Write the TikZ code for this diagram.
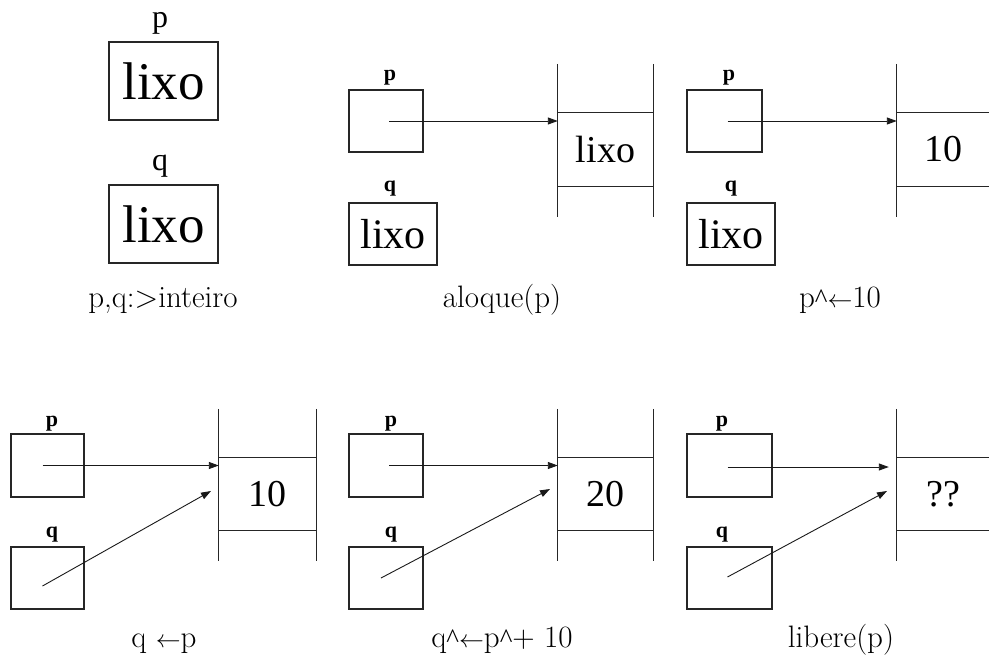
\documentclass[tikz,border=0pt]{standalone}
\usepackage{fontspec}
\newfontfamily\tms{Liberation Serif}
\usetikzlibrary{arrows.meta,calc}
\newcommand\crt{{\tms\fontsize{27}{30}\selectfont\textasciicircum}}
\tikzset{
 varbox/.style={draw=black!85, line width=1.2pt, inner sep=0pt, font=\tms\fontsize{42}{42}\selectfont},
 bigbox/.style={varbox, font=\tms\fontsize{53}{53}\selectfont},
 lbl/.style={anchor=base, inner sep=0pt, font=\tms\bfseries\fontsize{22}{22}\selectfont},
 biglbl/.style={anchor=base, inner sep=0pt, font=\tms\fontsize{32}{32}\selectfont},
 captext/.style={anchor=base, inner sep=0pt, font=\fontsize{31}{36}\selectfont},
 cell/.style={inner sep=0pt, font=\tms\fontsize{38}{38}\selectfont},
 wall/.style={line width=1.2pt, draw=black!85},
 ptr/.style={line width=0.9pt, draw=black!90, -{Triangle[length=10pt,width=7pt]}},
}
\begin{document}
\begin{tikzpicture}[x=1pt,y=-1pt]
\useasboundingbox (0,0) rectangle (989,659);
% ---------- panel 1
\node[bigbox, minimum width=109pt, minimum height=78pt] (p1) at (163.5,81) {lixo};
\node[biglbl] (p1l) at (160,27) {p};
\node[bigbox, minimum width=109pt, minimum height=78pt] (q1) at (163.5,224) {lixo};
\node[biglbl] (q1l) at (160,170) {q};
\node[captext] (c1) at (163,307) {p,q:>inteiro};
% ---------- panel 2
\node[varbox, minimum width=74pt, minimum height=62pt] (p2) at (386,121) {};
\node[lbl] (p2l) at (390,80) {p};
\node[varbox, minimum width=88pt, minimum height=62pt] (q2) at (393,234) {lixo};
\node[lbl] (q2l) at (390,191) {q};
\node[cell, minimum width=95pt, minimum height=73pt] (m2) at (605.5,149.5) {lixo};
\draw[wall] ($(m2.north west)+(0,-49)$) -- ($(m2.south west)+(0,31)$);
\draw[wall] ($(m2.north east)+(0,-49)$) -- ($(m2.south east)+(0,31)$);
\draw[wall] (m2.north west) -- (m2.north east);
\draw[wall] (m2.south west) -- (m2.south east);
\draw[ptr] ($(p2.center)+(3,0)$) -- (m2.west |- p2.center);
\node[captext] (c2) at (502,307) {aloque(p)};
% ---------- panel 3
\node[varbox, minimum width=75pt, minimum height=62pt] (p3) at (724.5,121) {};
\node[lbl] (p3l) at (729,80) {p};
\node[varbox, minimum width=88pt, minimum height=62pt] (q3) at (731,234) {lixo};
\node[lbl] (q3l) at (731,191) {q};
\node[cell, minimum width=92pt, minimum height=73pt] (m3) at (943,149.5) {10};
\draw[wall] ($(m3.north west)+(0,-49)$) -- ($(m3.south west)+(0,31)$);
\draw[wall] (m3.north west) -- (m3.north east);
\draw[wall] (m3.south west) -- (m3.south east);
\draw[ptr] ($(p3.center)+(3,0)$) -- (m3.west |- p3.center);
\node[captext] (c3) at (840,307) {p\crt$\leftarrow$10};
% ---------- panel 4
\node[varbox, minimum width=73pt, minimum height=63pt] (p4) at (47.5,465.5) {};
\node[lbl] (p4l) at (52,426) {p};
\node[varbox, minimum width=73pt, minimum height=62pt] (q4) at (47.5,578) {};
\node[lbl] (q4l) at (52,537) {q};
\node[cell, minimum width=97pt, minimum height=72pt] (m4) at (267.5,494) {10};
\draw[wall] ($(m4.north west)+(0,-49)$) -- ($(m4.south west)+(0,31)$);
\draw[wall] ($(m4.north east)+(0,-49)$) -- ($(m4.south east)+(0,31)$);
\draw[wall] (m4.north west) -- (m4.north east);
\draw[wall] (m4.south west) -- (m4.south east);
\draw[ptr] ($(p4.center)+(-5,0)$) -- (m4.west |- p4.center);
\coordinate (q4e) at (211,491);
\draw[ptr] ($(q4.center)+(-5,8)$) -- (q4e);
\node[captext] (c4) at (164,647) {q $\leftarrow$p};
% ---------- panel 5
\node[varbox, minimum width=74pt, minimum height=63pt] (p5) at (386,465.5) {};
\node[lbl] (p5l) at (391,426) {p};
\node[varbox, minimum width=74pt, minimum height=62pt] (q5) at (386,578) {};
\node[lbl] (q5l) at (391,537) {q};
\node[cell, minimum width=95pt, minimum height=72pt] (m5) at (605.5,494) {20};
\draw[wall] ($(m5.north west)+(0,-49)$) -- ($(m5.south west)+(0,31)$);
\draw[wall] ($(m5.north east)+(0,-49)$) -- ($(m5.south east)+(0,31)$);
\draw[wall] (m5.north west) -- (m5.north east);
\draw[wall] (m5.south west) -- (m5.south east);
\draw[ptr] ($(p5.center)+(3,0)$) -- (m5.west |- p5.center);
\coordinate (q5e) at (550,489);
\draw[ptr] ($(q5.center)+(-5,0)$) -- (q5e);
\node[captext] (c5) at (502,647) {q\crt$\leftarrow$p\crt+ 10};
% ---------- panel 6
\node[varbox, minimum width=85pt, minimum height=63pt] (p6) at (729.5,465.5) {};
\node[lbl] (p6l) at (722,426) {p};
\node[varbox, minimum width=85pt, minimum height=62pt] (q6) at (729.5,578) {};
\node[lbl] (q6l) at (722,537) {q};
\node[cell, minimum width=92pt, minimum height=72pt] (m6) at (943,494) {??};
\draw[wall] ($(m6.north west)+(0,-49)$) -- ($(m6.south west)+(0,31)$);
\draw[wall] (m6.north west) -- (m6.north east);
\draw[wall] (m6.south west) -- (m6.south east);
\draw[ptr] ($(p6.center)+(-2,1.5)$) -- ($(m6.west |- p6.center)+(-8,1.5)$);
\coordinate (q6e) at (887,491);
\draw[ptr] ($(q6.center)+(-2,-1)$) -- (q6e);
\node[captext] (c6) at (841,647) {libere(p)};
\end{tikzpicture}
\end{document}
